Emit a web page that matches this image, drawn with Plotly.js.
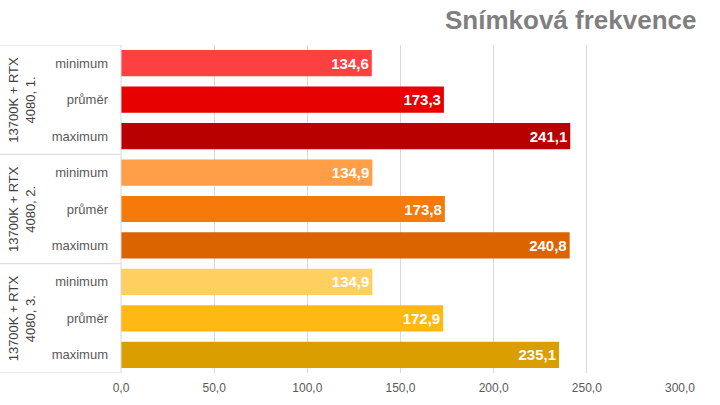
<!DOCTYPE html>
<html><head><meta charset="utf-8">
<script src="https://cdn.plot.ly/plotly-3.0.1.min.js"></script>
<style>body{margin:0}#c{width:720px;height:405px}</style>
</head><body><div id="c"></div>
<script>
const groups = ["13700K + RTX<br>4080, 1.", "13700K + RTX<br>4080, 2.", "13700K + RTX<br>4080, 3."];
const metrics = ["minimum", "průměr", "maximum"];
const values = [134.6, 173.3, 241.1, 134.9, 173.8, 240.8, 134.9, 172.9, 235.1];
const colors = ["#FF4040", "#E60000", "#B90000", "#FF9E47", "#F57A0A", "#DC6400", "#FFD060", "#FFB814", "#DA9E00"];
const xTicks = [0, 50, 100, 150, 200, 250, 300];

const pos = values.map((v, i) => i);
const tickText = pos.map(i => metrics[i % 3]);

const trace = {
  type: 'bar', orientation: 'h',
  x: values, y: pos,
  marker: {color: colors},
  texttemplate: '%{x:.1f}', textposition: 'inside', insidetextanchor: 'end',
  textfont: {family: 'Liberation Sans, Arial', size: 15, color: '#ffffff', weight: 'bold'},
  cliponaxis: false, hoverinfo: 'none', width: 0.72
};

const plotL = 121, plotR = 680;
const pw = plotR - plotL;
const shapes = [];
const lineCol = '#d9d9d9';
[-0.5, 2.5, 5.5, 8.5].forEach(y => shapes.push({type:'line', xref:'paper', yref:'y', x0:-plotL/pw, x1:0, y0:y, y1:y, line:{color:lineCol, width:1}}));
shapes.push({type:'line', xref:'paper', yref:'y', x0:0, x1:0, y0:-0.5, y1:8.5, line:{color:lineCol, width:1}});

const annotations = groups.map((g, k) => ({
  xref:'paper', yref:'y', x:-(plotL-22)/pw, y:k*3+1, text:g, showarrow:false, textangle:-90,
  font:{family:'Liberation Sans, Arial', size:13, color:'#404040'}, xanchor:'center', yanchor:'middle'
}));
annotations.push({xref:'paper', yref:'paper', x:(698-plotL)/pw, y:1, yshift:25, xanchor:'right', yanchor:'middle',
  text:'<b>Snímková frekvence</b>', showarrow:false, font:{family:'Liberation Sans, Arial', size:26, color:'#7f7f7f'}});

const layout = {
  width:720, height:405, margin:{l:plotL, r:720-plotR, t:45, b:32},
  paper_bgcolor:'#fff', plot_bgcolor:'#fff', separators:', ',
  showlegend:false, bargap:0.28,
  xaxis:{range:[0,300], tickvals:xTicks, tickformat:'.1f', showgrid:true, gridcolor:lineCol, gridwidth:1,
    zeroline:false, showline:false, ticks:'', ticklabelstandoff:6, tickfont:{family:'Liberation Sans, Arial', size:12, color:'#595959'}, fixedrange:true},
  yaxis:{range:[8.5,-0.5], tickvals:pos, ticktext:tickText, showgrid:false, zeroline:false, showline:false, ticks:'',
    ticklabelstandoff:12, tickfont:{family:'Liberation Sans, Arial', size:13, color:'#595959'}, fixedrange:true},
  shapes:shapes, annotations:annotations
};
Plotly.newPlot('c', [trace], layout, {displayModeBar:false, staticPlot:true});
</script></body></html>
